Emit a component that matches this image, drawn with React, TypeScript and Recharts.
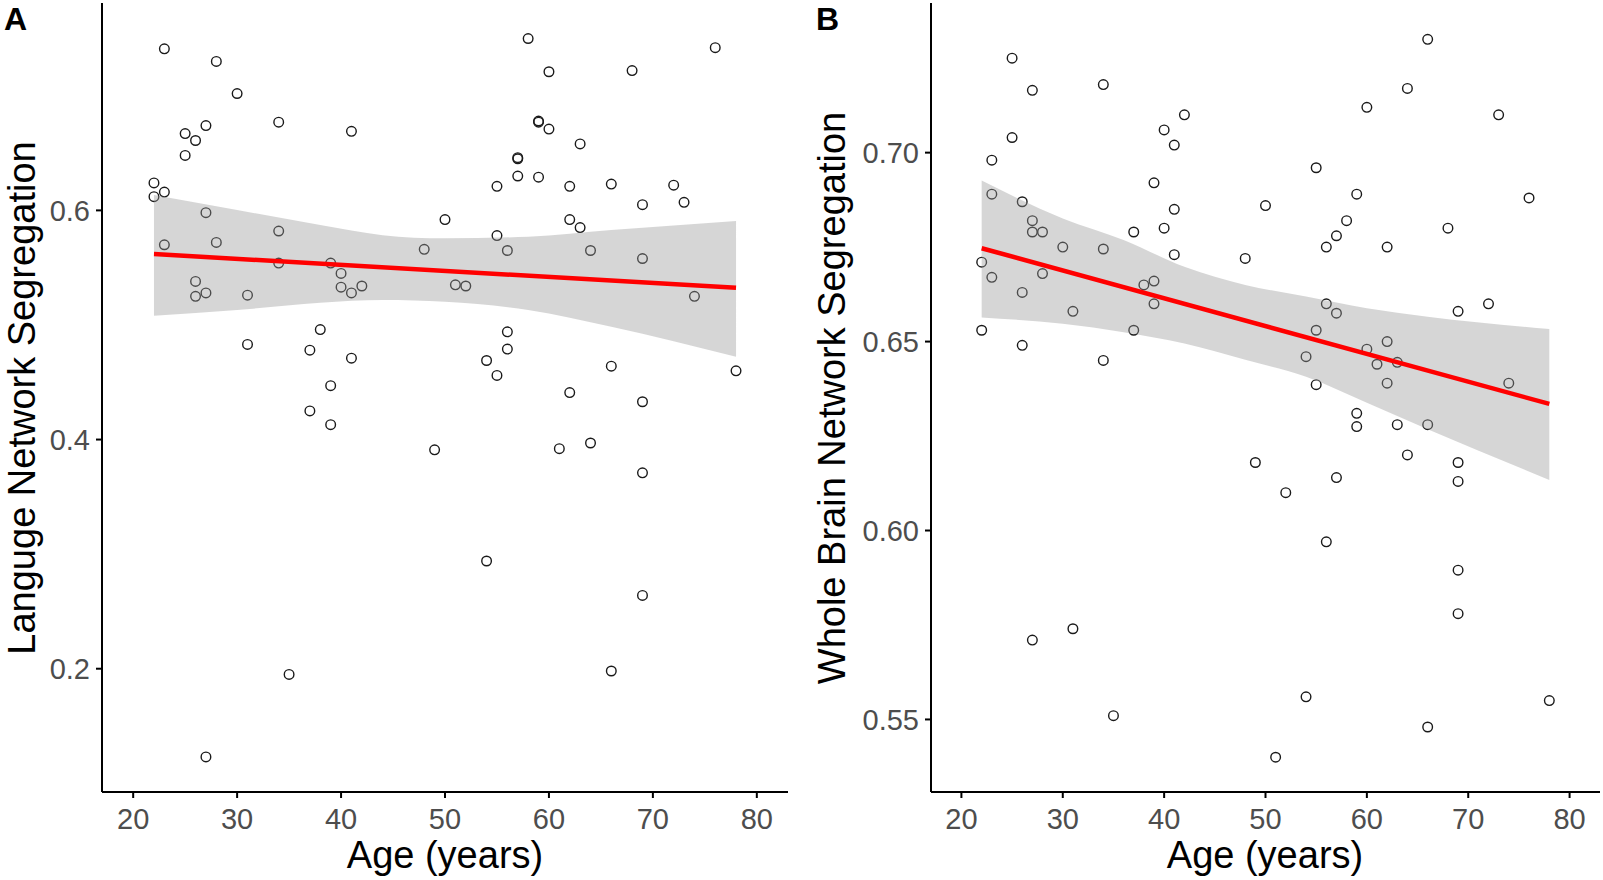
import React from "react";
import { ComposedChart, Area, Line, Scatter, XAxis, YAxis } from "recharts";

const ageTicks = [20, 30, 40, 50, 60, 70, 80];
const ageDomain = [17, 83];

// A: language network segregation
const agesA = [
  23, 28, 30, 34, 41, 27, 25, 26, 25, 22, 23, 22, 27, 50, 34, 23, 28, 48, 34, 39,
  40, 40, 41, 42, 26, 27, 26, 31, 38, 31, 37, 41, 39, 37, 39, 49, 35, 27, 58, 76,
  60, 68, 59, 59, 60, 63, 57, 57, 57, 59, 55, 62, 66, 72, 69, 73, 62, 63, 55, 56,
  64, 69, 51, 52, 74, 56, 56, 54, 55, 66, 78, 62, 69, 61, 64, 69, 54, 69, 66,
];
const segA = [
  0.741, 0.73, 0.702, 0.677, 0.669, 0.674, 0.667, 0.661, 0.648, 0.624, 0.616, 0.612, 0.598, 0.592, 0.582, 0.57, 0.572, 0.566, 0.554, 0.554,
  0.545, 0.533, 0.528, 0.534, 0.538, 0.528, 0.525, 0.526, 0.496, 0.483, 0.478, 0.471, 0.447, 0.425, 0.413, 0.391, 0.195, 0.123, 0.75, 0.742,
  0.721, 0.722, 0.678, 0.677, 0.671, 0.658, 0.646, 0.645, 0.63, 0.629, 0.621, 0.621, 0.623, 0.622, 0.605, 0.607, 0.592, 0.585, 0.578, 0.565,
  0.565, 0.558, 0.535, 0.534, 0.525, 0.494, 0.479, 0.469, 0.456, 0.464, 0.46, 0.441, 0.433, 0.392, 0.397, 0.371, 0.294, 0.264, 0.198,
];
const bandAgesA = [22, 30, 38, 44, 50, 58, 66, 78];
const bandLowA = [0.508, 0.513, 0.5194, 0.5217, 0.5202, 0.513, 0.4984, 0.4722];
const bandHighA = [0.6134, 0.6003, 0.5872, 0.5784, 0.5756, 0.577, 0.5828, 0.5907];
const fitAgesA = [22, 78];
const fitA = [0.5619, 0.5325];
const yTicksA = [0.2, 0.4, 0.6];

// B: whole brain network segregation
const agesB = [
  25, 27, 34, 42, 40, 41, 25, 23, 39, 23, 26, 41, 27, 27, 28, 40, 37, 48, 30, 34,
  41, 22, 23, 28, 39, 38, 26, 39, 31, 22, 37, 26, 34, 27, 31, 35, 66, 64, 60, 73,
  55, 50, 59, 76, 58, 57, 56, 62, 68, 56, 57, 69, 72, 55, 62, 60, 54, 61, 63, 55,
  62, 74, 59, 59, 63, 66, 64, 49, 69, 57, 69, 52, 56, 69, 69, 54, 78, 66, 51,
];
const segB = [
  0.725, 0.7165, 0.718, 0.71, 0.706, 0.702, 0.704, 0.698, 0.692, 0.689, 0.687, 0.685, 0.682, 0.679, 0.679, 0.68, 0.679, 0.672, 0.675, 0.6745,
  0.673, 0.671, 0.667, 0.668, 0.666, 0.665, 0.663, 0.66, 0.658, 0.653, 0.653, 0.649, 0.645, 0.571, 0.574, 0.551, 0.73, 0.717, 0.712, 0.71,
  0.696, 0.686, 0.689, 0.688, 0.682, 0.678, 0.675, 0.675, 0.68, 0.66, 0.6575, 0.658, 0.66, 0.653, 0.65, 0.648, 0.646, 0.644, 0.6445, 0.6386,
  0.639, 0.639, 0.631, 0.6275, 0.628, 0.628, 0.62, 0.618, 0.618, 0.614, 0.613, 0.61, 0.597, 0.5895, 0.578, 0.556, 0.555, 0.548, 0.54,
];
const bandAgesB = [22, 30, 36, 42, 48, 54, 60, 66, 78];
const bandLowB = [0.6564, 0.6547, 0.6525, 0.6495, 0.6452, 0.6407, 0.6338, 0.6268, 0.6134];
const bandHighB = [0.6926, 0.6826, 0.6769, 0.6698, 0.665, 0.6619, 0.6588, 0.6566, 0.6533];
const fitAgesB = [22, 78];
const fitB = [0.6747, 0.6335];
const yTicksB = [0.55, 0.6, 0.65, 0.7];

const FONT = "'Liberation Sans', Arial, sans-serif";

const Dot = (p: any) => (
  <circle cx={p.cx} cy={p.cy} r={4.8} fill="none" stroke="#1a1a1a" strokeWidth={1.4} />
);

type PanelProps = {
  ages: number[];
  seg: number[];
  bandAges: number[];
  bandLow: number[];
  bandHigh: number[];
  fitAges: number[];
  fit: number[];
  yTicks: number[];
  yDomain: number[];
  digits: number;
  width: number;
  yAxisWidth: number;
  marginRight: number;
};

const Panel = (props: PanelProps) => {
  const points = props.ages.map((age, i) => ({ age, seg: props.seg[i] }));
  const rows = props.bandAges.map((age, i) => {
    const k = props.fitAges.indexOf(age);
    return {
      age,
      band: [props.bandLow[i], props.bandHigh[i]],
      fit: k >= 0 ? props.fit[k] : null,
    };
  });

  return (
    <ComposedChart
      width={props.width}
      height={880}
      data={rows}
      margin={{ top: 3, right: props.marginRight, bottom: 0, left: 0 }}
    >
      <XAxis
        dataKey="age"
        type="number"
        domain={ageDomain}
        ticks={ageTicks}
        allowDataOverflow
        height={88}
        tickSize={6}
        tickMargin={10}
        axisLine={{ stroke: "#000", strokeWidth: 2 }}
        tickLine={{ stroke: "#000", strokeWidth: 2 }}
        tick={{ fontSize: 29, fill: "#4d4d4d", fontFamily: FONT }}
      />
      <YAxis
        type="number"
        domain={props.yDomain}
        ticks={props.yTicks}
        allowDataOverflow
        width={props.yAxisWidth}
        tickSize={6}
        tickMargin={6}
        tickFormatter={(v: number) => v.toFixed(props.digits)}
        axisLine={{ stroke: "#000", strokeWidth: 2 }}
        tickLine={{ stroke: "#000", strokeWidth: 2 }}
        tick={{ fontSize: 29, fill: "#4d4d4d", fontFamily: FONT }}
      />
      <Scatter data={points} dataKey="seg" shape={Dot} isAnimationActive={false} zIndex={50} />
      <Area
        dataKey="band"
        type="monotone"
        stroke="none"
        fill="#999999"
        fillOpacity={0.4}
        isAnimationActive={false}
      />
      <Line
        dataKey="fit"
        type="linear"
        stroke="#ff0000"
        strokeWidth={4.5}
        dot={false}
        connectNulls
        isAnimationActive={false}
      />
    </ComposedChart>
  );
};

export default function App() {
  return (
    <div style={{ position: "absolute", left: 0, top: 0, width: 1603, height: 880, background: "#fff" }}>
      <div style={{ position: "absolute", left: 0, top: 0 }}>
        <Panel
          ages={agesA}
          seg={segA}
          bandAges={bandAgesA}
          bandLow={bandLowA}
          bandHigh={bandHighA}
          fitAges={fitAgesA}
          fit={fitA}
          yTicks={yTicksA}
          yDomain={[0.0924, 0.781]}
          digits={1}
          width={800}
          yAxisWidth={102}
          marginRight={12}
        />
      </div>
      <div style={{ position: "absolute", left: 800, top: 0 }}>
        <Panel
          ages={agesB}
          seg={segB}
          bandAges={bandAgesB}
          bandLow={bandLowB}
          bandHigh={bandHighB}
          fitAges={fitAgesB}
          fit={fitB}
          yTicks={yTicksB}
          yDomain={[0.5308, 0.7396]}
          digits={2}
          width={803}
          yAxisWidth={131}
          marginRight={3}
        />
      </div>
      <svg
        width={1603}
        height={880}
        style={{ position: "absolute", left: 0, top: 0, pointerEvents: "none" }}
        fontFamily={FONT}
      >
        <text x={4} y={30} fontSize={32} fontWeight="bold" fill="#000">A</text>
        <text x={816} y={30} fontSize={32} fontWeight="bold" fill="#000">B</text>
        <text x={445} y={868} fontSize={38} textAnchor="middle" fill="#000">Age (years)</text>
        <text x={1265} y={868} fontSize={38} textAnchor="middle" fill="#000">Age (years)</text>
        <text x={35} y={398} fontSize={38} textAnchor="middle" fill="#000" transform="rotate(-90 35 398)">
          Languge Network Segregation
        </text>
        <text x={845} y={398} fontSize={38} textAnchor="middle" fill="#000" transform="rotate(-90 845 398)">
          Whole Brain Network Segregation
        </text>
      </svg>
    </div>
  );
}
